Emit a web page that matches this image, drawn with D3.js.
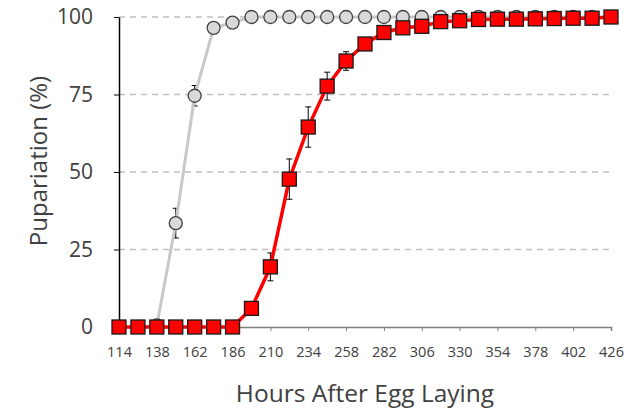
<!DOCTYPE html>
<html>
<head>
<meta charset="utf-8">
<script src="https://cdn.jsdelivr.net/npm/d3@7"></script>
<style>
  body { margin: 0; background: #fff; }
  text { font-family: "Open Sans", sans-serif; fill: #404040; }
</style>
</head>
<body>
<script>
// hours after egg laying, every 12 h
var hours = [114,126,138,150,162,174,186,198,210,222,234,246,258,270,282,294,306,318,330,342,354,366,378,390,402,414,426];
var greyVals = [0,0,0.5,33.5,74.6,96.5,98.2,100,100,100,100,100,100,100,100,100,100,100,100,100,100,100,100,100,100,100,100];
var greyErr  = [0,0,0.5,4.8,3.3,1,0.5,0,0,0,0,0,0,0,0,0,0,0,0,0,0,0,0,0,0,0,0];
var redVals  = [0,0,0,0,0,0,0,6,19.4,47.7,64.5,77.7,85.8,91.3,95,96.5,97,98.5,98.8,99.2,99.3,99.3,99.4,99.5,99.6,99.6,100];
var redErr   = [0,0,0,0,0,0,0,1.5,4.5,6.5,6.5,4.5,3,1.5,1,1,0.8,0.5,0.5,0.3,0.3,0.3,0.2,0.2,0.2,0.2,0];
var xTicks = [114,138,162,186,210,234,258,282,306,330,354,378,402,426];
var yTicks = [0,25,50,75,100];

var W = 634, H = 414;
var svg = d3.select('body').append('svg').attr('width', W).attr('height', H);

var x = d3.scaleLinear().domain([114, 426]).range([119, 611]);
var y = d3.scaleLinear().domain([0, 100]).range([327, 17]);

// gridlines
svg.selectAll('line.grid').data(yTicks.slice(1)).enter().append('line')
  .attr('class', 'grid')
  .attr('x1', x(114)).attr('x2', x(426))
  .attr('y1', function(d) { return y(d); }).attr('y2', function(d) { return y(d); })
  .attr('stroke', '#bfbfbf').attr('stroke-width', 1.5)
  .attr('stroke-dasharray', '6,5');

// x axis
var xAxis = svg.append('g').attr('transform', 'translate(0,' + y(0) + ')')
  .call(d3.axisBottom(x).tickValues(xTicks).tickSize(4).tickPadding(16).tickFormat(d3.format('d')));
xAxis.select('.domain').attr('stroke', '#808080').attr('stroke-width', 1.5);
xAxis.selectAll('.tick line').attr('stroke', '#808080');
xAxis.selectAll('text').style('font-size', '14.5px').attr('fill', '#404040');

// y axis
var yAxis = svg.append('g').attr('transform', 'translate(' + x(114) + ',0)')
  .call(d3.axisLeft(y).tickValues(yTicks).tickSize(5).tickSizeOuter(0).tickPadding(21));
yAxis.select('.domain').attr('stroke', '#000').attr('stroke-width', 1.5);
yAxis.selectAll('.tick line').attr('stroke', '#000');
yAxis.selectAll('text').style('font-size', '21px').attr('fill', '#404040');

var line = d3.line().x(function(d) { return x(d[0]); }).y(function(d) { return y(d[1]); });

function drawErr(vals, errs, capW) {
  var g = svg.append('g');
  hours.forEach(function(h, i) {
    if (errs[i] <= 0) return;
    var cx = x(h), top = y(Math.min(vals[i] + errs[i], 100)), bot = y(Math.max(vals[i] - errs[i], 0));
    g.append('line').attr('x1', cx).attr('x2', cx).attr('y1', top).attr('y2', bot).attr('stroke', '#000').attr('stroke-width', 1);
    g.append('line').attr('x1', cx - capW).attr('x2', cx + capW).attr('y1', top).attr('y2', top).attr('stroke', '#000').attr('stroke-width', 1);
    g.append('line').attr('x1', cx - capW).attr('x2', cx + capW).attr('y1', bot).attr('y2', bot).attr('stroke', '#000').attr('stroke-width', 1);
  });
}

// grey series
var greyData = d3.zip(hours, greyVals);
drawErr(greyVals, greyErr, 3);
svg.append('path').datum(greyData).attr('d', line)
  .attr('fill', 'none').attr('stroke', '#c8c8c8').attr('stroke-width', 3);
svg.selectAll('circle.grey').data(greyData).enter().append('circle')
  .attr('class', 'grey')
  .attr('cx', function(d) { return x(d[0]); })
  .attr('cy', function(d) { return y(d[1]); })
  .attr('r', 6.5)
  .attr('fill', '#d9d9d9').attr('stroke', '#404040').attr('stroke-width', 1.3);

// red series
var redData = d3.zip(hours, redVals);
drawErr(redVals, redErr, 3);
svg.append('path').datum(redData).attr('d', line)
  .attr('fill', 'none').attr('stroke', '#ff0000').attr('stroke-width', 3.5);
var s = 14;
svg.selectAll('rect.red').data(redData).enter().append('rect')
  .attr('class', 'red')
  .attr('x', function(d) { return x(d[0]) - s / 2; })
  .attr('y', function(d) { return y(d[1]) - s / 2; })
  .attr('width', s).attr('height', s)
  .attr('fill', '#ff0000').attr('stroke', '#1a1a1a').attr('stroke-width', 1.3);

// axis titles
svg.append('text')
  .attr('transform', 'translate(39,' + 161 + ') rotate(-90)')
  .attr('text-anchor', 'middle').attr('dy', '0.35em')
  .style('font-size', '24px')
  .text('Pupariation (%)');

svg.append('text')
  .attr('x', 365).attr('y', 402)
  .attr('text-anchor', 'middle')
  .style('font-size', '24.5px')
  .text('Hours After Egg Laying');
</script>
</body>
</html>
